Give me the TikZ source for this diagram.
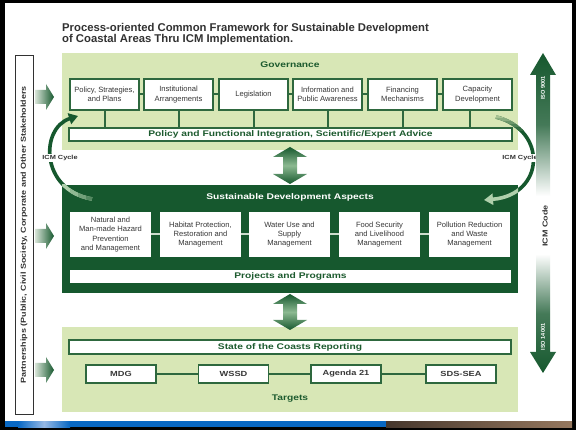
\documentclass[tikz,border=0pt]{standalone}
\usepackage{fontspec}
\setmainfont{Liberation Sans}
\newfontfamily\widebf{Liberation Sans}[FakeStretch=1.25]
\usetikzlibrary{calc,arrows.meta}
\definecolor{dg}{RGB}{22,88,46}
\definecolor{lg}{RGB}{216,231,182}
\definecolor{edge}{RGB}{46,104,62}
\definecolor{txt}{RGB}{55,55,55}
\definecolor{titlec}{RGB}{50,50,50}
\definecolor{head}{RGB}{28,90,46}
\definecolor{pale}{RGB}{175,208,172}
\definecolor{arrowlight}{RGB}{215,228,215}
\definecolor{arrowmid}{RGB}{140,185,145}
\definecolor{stripblue}{RGB}{8,104,196}
\definecolor{glow}{RGB}{150,185,230}
\definecolor{photoA}{RGB}{70,55,45}
\definecolor{photoB}{RGB}{150,120,95}
\definecolor{linkpale}{RGB}{205,220,205}

\begin{document}
\begin{tikzpicture}[x=1pt,y=-1pt,
  panel/.style={inner sep=0pt, minimum width=456pt},
  govbox/.style={draw=edge, line width=1.1pt, fill=white, minimum width=69pt, minimum height=31pt,
    inner sep=1pt, align=center, text=txt, font=\fontsize{7.6}{9.4}\selectfont},
  aspect/.style={fill=white, minimum width=81pt, minimum height=45pt, inner sep=1pt,
    align=center, text=txt, font=\fontsize{7.6}{9.4}\selectfont},
  bar/.style={draw=edge, line width=1.1pt, fill=white, minimum height=13pt, inner sep=0pt,
    text=head, font=\widebf\bfseries\fontsize{8.2}{9}\selectfont},
  target/.style={draw=edge, line width=1.1pt, fill=white, minimum width=70pt, minimum height=18pt,
    inner sep=0pt, text=txt, font=\widebf\bfseries\fontsize{7.4}{9}\selectfont},
  heading/.style={text=head, inner sep=0pt, font=\widebf\bfseries\fontsize{8.2}{9}\selectfont},
  cyclelabel/.style={fill=white, inner sep=1pt, text=titlec, font=\widebf\bfseries\fontsize{5.9}{7}\selectfont},
  link/.style={draw=edge, line width=2pt},
  palelink/.style={draw=linkpale, line width=2pt},
  icmarc/.style={line width=3.6pt, draw=dg, -{Triangle[length=9pt,width=11pt]}},
  isolabel/.style={rotate=90, text=white, inner sep=0pt, font=\bfseries\fontsize{5.6}{6}\selectfont},
]
\useasboundingbox (0,0) rectangle (576,430);

% slide frame and footer strip
\fill[black] (0,0) rectangle (576,430);
\fill[white] (5,3) rectangle (572,421);
\fill[stripblue] (5,421) rectangle (572,427);
\shade[left color=stripblue, right color=stripblue, middle color=glow] (18,421) rectangle (70,427);
\shade[left color=photoA, right color=photoB] (386,421) rectangle (572,427);

% title
\node[anchor=base west, inner sep=0pt, text=titlec, font=\bfseries\fontsize{11.3}{12}\selectfont]
  (title1) at (62,32) {Process-oriented Common Framework for Sustainable Development};
\node[anchor=base west, inner sep=0pt, text=titlec, font=\bfseries\fontsize{11.3}{12}\selectfont]
  (title2) at (62,43) {of Coastal Areas Thru ICM Implementation.};

% three layers
\node[panel, fill=lg, minimum height=97pt] (govpanel) at (290,101.5) {};
\node[panel, fill=dg, minimum height=108pt] (sdpanel) at (290,239) {};
\node[panel, fill=lg, minimum height=85pt] (tgpanel) at (290,369.5) {};

% ICM cycle arcs
\coordinate (lstart) at (92,199);
\coordinate (lend) at (78,116);
\coordinate (rstart) at (496,117);
\coordinate (rend) at (484,200);
\draw[icmarc] (lstart) .. controls (40,190) and (40,128) .. (lend);
\draw[icmarc] (rstart) .. controls (548,130) and (545,195) .. (rend);
% lighter parts of the arcs on the dark layer
\begin{scope}
  \clip (62,185) rectangle (518,293);
  \draw[icmarc, draw=pale] (lstart) .. controls (40,190) and (40,128) .. (lend);
  \draw[icmarc, draw=pale] (rstart) .. controls (548,130) and (545,195) .. (rend);
\end{scope}
\foreach \i/\c in {0/10,1/25,2/40,3/55,4/70,5/85}{
  \begin{scope}
    \clip (470,{113+3*\i}) rectangle (560,{116+3*\i});
    \draw[icmarc, draw=dg!\c!lg] (rstart) .. controls (548,130) and (545,195) .. (rend);
  \end{scope}
}
\foreach \i/\c in {0/80,1/60,2/40}{
  \begin{scope}
    \clip ({70+8*\i},185) rectangle ({78+8*\i},210);
    \draw[icmarc, draw=pale!\c!dg] (lstart) .. controls (40,190) and (40,128) .. (lend);
  \end{scope}
}

% governance
\node[heading, anchor=base] (govhead) at (290,68) {Governance};
\node[govbox] (g1) at (104.5,94.5) {Policy, Strategies,\\and Plans};
\node[govbox] (g2) at (178.5,94.5) {Institutional\\Arrangements};
\node[govbox] (g3) at (253.5,94.5) {Legislation};
\node[govbox] (g4) at (327.5,94.5) {Information and\\Public Awareness};
\node[govbox] (g5) at (402.5,94.5) {Financing\\Mechanisms};
\node[govbox] (g6) at (477.5,94.5) {Capacity\\Development};
\node[bar, minimum width=443pt] (pfbar) at (290.5,134.5) {Policy and Functional Integration, Scientific/Expert Advice};
\foreach \a/\b in {g1/g2,g2/g3,g3/g4,g4/g5,g5/g6}{ \draw[link] (\a.east) -- (\b.west); }
\foreach \g in {g1,g2,g3,g4,g5}{ \draw[link] (\g.south) -- (\g.south |- pfbar.north); }
\draw[link] ([xshift=-8pt]g6.south) -- ([xshift=-8pt]g6.south |- pfbar.north);

% ICM cycle labels
\node[cyclelabel] (lcycle) at (60,158) {ICM Cycle};
\node[cyclelabel] (rcycle) at (520,158) {ICM Cycle};

% double arrows between the layers
\shade[top color=dg, bottom color=dg, middle color=arrowmid]
  (290,147) -- (307,157) -- (297,157) -- (297,174) -- (307,174) -- (290,184)
  -- (273,174) -- (283,174) -- (283,157) -- (273,157) -- cycle;
\shade[top color=dg, bottom color=dg, middle color=arrowmid]
  (290,294) -- (307,304) -- (297,304) -- (297,320) -- (307,320) -- (290,330)
  -- (273,320) -- (283,320) -- (283,304) -- (273,304) -- cycle;

% sustainable development aspects
\node[heading, text=white, anchor=base] (sdhead) at (290,200) {Sustainable Development Aspects};
\node[aspect] (s1) at (110.5,234.5) {Natural and\\Man-made Hazard\\Prevention\\and Management};
\node[aspect] (s2) at (200.5,234.5) {Habitat Protection,\\Restoration and\\Management};
\node[aspect] (s3) at (289.5,234.5) {Water Use and\\Supply\\Management};
\node[aspect] (s4) at (379.5,234.5) {Food Security\\and Livelihood\\Management};
\node[aspect] (s5) at (469.5,234.5) {Pollution Reduction\\and Waste\\Management};
\foreach \a/\b in {s1/s2,s2/s3,s3/s4,s4/s5}{ \draw[palelink] (\a.east) -- (\b.west); }
\node[bar, draw=none, minimum width=441pt] (ppbar) at (290.5,276.5) {Projects and Programs};

% reporting and targets
\node[bar, minimum width=442pt, minimum height=14pt] (socbar) at (290,347) {State of the Coasts Reporting};
\node[target] (t1) at (121,374) {MDG};
\node[target] (t2) at (233.5,374) {WSSD};
\node[target] (t3) at (346,374) {Agenda 21};
\node[target] (t4) at (461,374) {SDS-SEA};
\foreach \a/\b in {t1/t2,t2/t3,t3/t4}{ \draw[link] (\a.east) -- (\b.west); }
\node[heading, anchor=base] (tghead) at (290,400) {Targets};

% partnerships column and its arrows
\node[draw=titlec, line width=0.8pt, fill=white, rotate=90, minimum width=359pt, minimum height=18pt,
  inner sep=0pt, text=titlec, font=\widebf\bfseries\fontsize{7.2}{8}\selectfont]
  (partners) at (24,235) {Partnerships (Public, Civil Society, Corporate and Other Stakeholders};
\foreach \y in {97,236,370}{
  \shade[left color=arrowlight, right color=dg]
    (35,\y-7) -- (46,\y-7) -- (46,\y-13) -- (54,\y) -- (46,\y+13) -- (46,\y+7) -- (35,\y+7) -- cycle;
}

% ICM code arrow
\shade[top color=dg, bottom color=white, middle color=dg!80!white]
  (543,53) -- (556,75) -- (550,75) -- (550,196) -- (536,196) -- (536,75) -- (530,75) -- cycle;
\shade[top color=white, bottom color=dg, middle color=dg!80!white]
  (536,254) -- (550,254) -- (550,352) -- (556,352) -- (543,373) -- (530,352) -- (536,352) -- cycle;
\node[isolabel] (iso9) at (543,88) {ISO 9001};
\node[rotate=90, inner sep=0pt, text=titlec, font=\widebf\bfseries\fontsize{7.2}{8}\selectfont] (icmcode) at (545,226) {ICM Code};
\node[isolabel] (iso14) at (543,337) {ISO 14001};
\end{tikzpicture}
\end{document}
